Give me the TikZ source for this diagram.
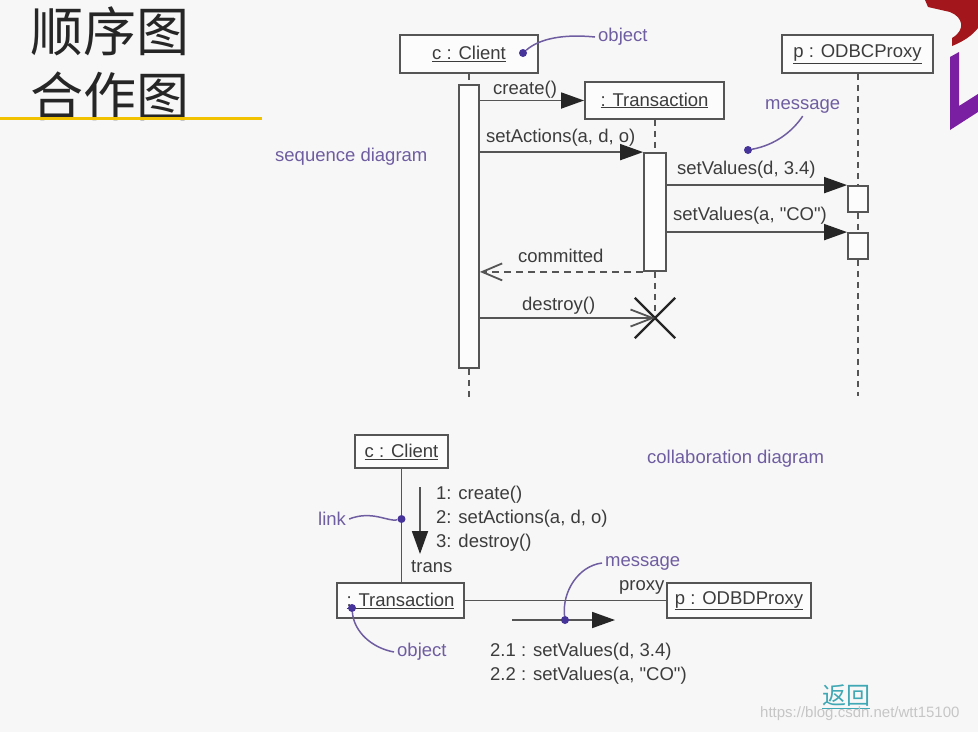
\documentclass[tikz,border=0pt]{standalone}
\usepackage{fontspec}
\setmainfont{Liberation Sans}
\newfontfamily\cjk{Noto Sans CJK SC}
\usetikzlibrary{arrows.meta,shapes.misc}
\definecolor{bg}{HTML}{F8F7F7}
\definecolor{ink}{HTML}{3C3C3C}
\definecolor{linec}{HTML}{555555}
\definecolor{purp}{HTML}{6E5DA0}
\definecolor{dotc}{HTML}{46349A}
\definecolor{gold}{HTML}{F2C200}
\definecolor{tealc}{HTML}{3FA8B4}
\definecolor{logored}{HTML}{A3161B}
\definecolor{logopurp}{HTML}{7A1FA2}
\newcommand{\dq}{\textquotedbl}
\begin{document}
\begin{tikzpicture}[x=1pt,y=-1pt,
  font=\fontsize{18.5}{22}\selectfont, text=ink,
  box/.style={draw=linec, line width=1.9pt, fill=white!60!bg, inner sep=0pt},
  bar/.style={draw=linec, line width=1.8pt, fill=white!60!bg, inner sep=0pt},
  life/.style={draw=linec, line width=1.8pt, dash pattern=on 6pt off 5pt},
  msg/.style={draw=linec, line width=1.8pt, -{Triangle[length=23pt,width=16pt,color=black!85,fill=black!85]}},
  ret/.style={draw=linec, line width=1.8pt, dash pattern=on 7pt off 5pt, -{Straight Barb[length=20pt,width=17pt,line width=1.8pt]}},
  stick/.style={draw=linec, line width=1.8pt, -{Straight Barb[length=22pt,width=17pt,line width=1.8pt]}},
  lnk/.style={draw=linec, line width=1.9pt},
  lab/.style={anchor=west, inner sep=0pt},
  plab/.style={anchor=west, inner sep=3pt, text=purp},
  dot/.style={circle, fill=dotc, inner sep=0pt, minimum size=8pt},
  callout/.style={draw=purp, line width=1.5pt}]
\fill[bg] (0,0) rectangle (978,732);
\useasboundingbox (0,0) rectangle (978,732);

% title
\node[lab, font=\cjk\fontsize{53}{60}\selectfont, text=black!85] (title1) at (30,31) {顺序图};
\node[lab, font=\cjk\fontsize{53}{60}\selectfont, text=black!85] (title2) at (30,96) {合作图};
\draw[gold, line width=3pt] (0,118) -- (262,118);

% logo
\fill[logored] (925,0) -- (978,0) -- (978,28) .. controls (972,36) and (962,42) .. (952,46) -- (952,38)
  .. controls (966,30) and (963,17) .. (950,12) -- (928,7) -- cycle;
\fill[logopurp] (950,57) -- (959,52) -- (959,106) -- (978,94) -- (978,112) -- (950,130) -- cycle;

% ---------------- sequence diagram
\node[box, minimum width=138pt, minimum height=38pt] (cbox) at (469,54) {\underline{c : Client}};
\node[box, minimum width=139pt, minimum height=37pt] (tbox) at (654.5,100.5) {\underline{: Transaction}};
\node[box, minimum width=151pt, minimum height=38pt] (pbox) at (857.5,54) {\underline{p : ODBCProxy}};

\node[bar, minimum width=20pt, minimum height=283pt] (cbar) at (469,226.5) {};
\node[bar, minimum width=22pt, minimum height=118pt] (tbar) at (655,212) {};
\node[bar, minimum width=20pt, minimum height=26pt] (pb1) at (858,199) {};
\node[bar, minimum width=20pt, minimum height=26pt] (pb2) at (858,246) {};

\coordinate (cend) at (469,400);
\coordinate (xd) at (655,318);
\coordinate (pend) at (858,396);
\draw[life] (cbox.south) -- (cbar.north);
\draw[life] (cbar.south) -- (cend);
\draw[life] (tbar.north |- tbox.south) -- (tbar.north);
\draw[life] (tbar.south) -- (xd);
\draw[life] (pb1.north |- pbox.south) -- (pb1.north);
\draw[life] (pb1.south) -- (pb2.north);
\draw[life] (pb2.south) -- (pend);

\node[cross out, draw=black!85, line width=2.4pt, minimum size=38pt, inner sep=0pt] (xmark) at (xd) {};

\draw[msg] (cbar.east |- tbox.west) -- (tbox.west);
\draw[msg] (cbar.east |- tbar.north) -- (tbar.north west);
\draw[msg] (tbar.east |- pb1.north) -- (pb1.north west);
\draw[msg] (tbar.east |- pb2.north) -- (pb2.north west);
\draw[ret] (tbar.south west) -- (cbar.east |- tbar.south);
\draw[stick] (cbar.east |- xmark.center) -- (xmark.center);

\node[lab] (lcreate) at (493,90) {create()};
\node[lab] (lsetact) at (486,138) {setActions(a, d, o)};
\node[lab] (lsv1) at (677,170) {setValues(d, 3.4)};
\node[lab] (lsv2) at (673,216) {setValues(a, \dq CO\dq)};
\node[lab] (lcomm) at (518,256) {committed};
\node[lab] (ldestr) at (522,306) {destroy()};

\node[plab] (lseq) at (272,157) {sequence diagram};
\node[dot] (d1) at (523,53) {};
\node[plab] (l1) at (595,37) {object};
\draw[callout] (d1) .. controls (540,38) and (565,34) .. (l1.west);
\node[dot] (d2) at (748,150) {};
\node[plab] (l2) at (762,106) {message};
\draw[callout] (d2) .. controls (775,145) and (792,132) .. (l2.south);

% ---------------- collaboration diagram
\node[box, minimum width=93pt, minimum height=33pt] (c2box) at (401.5,451.5) {\underline{c : Client}};
\node[box, minimum width=127pt, minimum height=35pt] (t2box) at (400.5,600.5) {\underline{: Transaction}};
\node[box, minimum width=144pt, minimum height=35pt] (p2box) at (739,600.5) {\underline{p : ODBDProxy}};

\draw[lnk] (c2box.south) -- (c2box.south |- t2box.north);
\draw[lnk] (t2box.east) -- (p2box.west);

\coordinate (a1) at (420,487);
\coordinate (a2) at (420,554);
\draw[msg] (a1) -- (a2);
\node[lab] (m1l) at (436,495) {1: create()};
\node[lab] (m2l) at (436,519) {2: setActions(a, d, o)};
\node[lab] (m3l) at (436,543) {3: destroy()};
\node[lab] (ltrans) at (411,567) {trans};
\node[lab] (lproxy) at (619,587) {proxy};

\coordinate (mm1) at (512,620);
\coordinate (mm2) at (615,620);
\draw[msg] (mm1) -- (mm2);
\node[lab] (sv1) at (490,652) {2.1 : setValues(d, 3.4)};
\node[lab] (sv2) at (490,676) {2.2 : setValues(a, \dq CO\dq)};

\node[dot] (d3) at (401.5,519) {};
\node[plab] (l3) at (315,519) {link};
\draw[callout] (l3.east) .. controls (372,510) and (388,522) .. (d3);
\node[dot] (d4) at (565,620) {};
\node[plab] (l4) at (602,563) {message};
\draw[callout] (d4) .. controls (562,592) and (578,566) .. (l4.west);
\node[dot] (d5) at (352,608) {};
\node[plab] (l5) at (394,652) {object};
\draw[callout] (d5) .. controls (354,632) and (372,648) .. (l5.west);
\node[plab] (lcol) at (644,459) {collaboration diagram};

\node[lab, text=tealc, font=\cjk\fontsize{24}{28}\selectfont] (back) at (822,697) {\underline{返回}};
\node[lab, text=gray!45, font=\fontsize{15}{18}\selectfont] (wm) at (760,714) {https://blog.csdn.net/wtt15100};
\end{tikzpicture}
\end{document}
